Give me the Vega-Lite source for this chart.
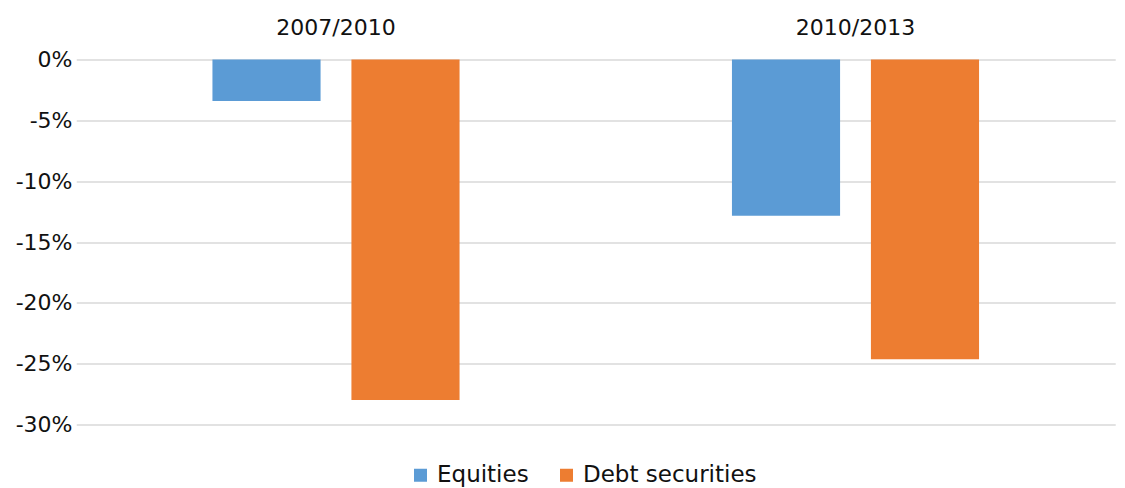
{
  "$schema": "https://vega.github.io/schema/vega-lite/v6.json",
  "autosize": {"type": "none"},
  "padding": {"left": 93, "top": 59.5, "right": 0, "bottom": 63.5},
  "width": 1045,
  "height": 365,
  "background": "white",
  "config": {
    "view": {"stroke": null},
    "font": "DejaVu Sans",
    "axis": {"labelFont": "DejaVu Sans", "labelColor": "#111111", "labelFontSize": 22},
    "legend": {"labelFont": "DejaVu Sans", "labelColor": "#111111", "labelFontSize": 23}
  },
  "data": {
    "values": [
      {"period": "2007/2010", "series": "Equities", "value": -0.0341},
      {"period": "2007/2010", "series": "Debt securities", "value": -0.2799},
      {"period": "2010/2013", "series": "Equities", "value": -0.1284},
      {"period": "2010/2013", "series": "Debt securities", "value": -0.2464}
    ]
  },
  "mark": {"type": "bar"},
  "encoding": {
    "x": {
      "field": "period",
      "type": "nominal",
      "sort": ["2007/2010", "2010/2013"],
      "scale": {"range": [-16.75, 1022.25], "paddingInner": 0, "paddingOuter": 0},
      "axis": {
        "orient": "top",
        "title": null,
        "domain": false,
        "ticks": false,
        "labelPadding": 20,
        "labelAngle": 0
      }
    },
    "xOffset": {
      "field": "series",
      "type": "nominal",
      "sort": ["Equities", "Debt securities"],
      "scale": {"paddingInner": 0.222, "paddingOuter": 0.98}
    },
    "y": {
      "field": "value",
      "type": "quantitative",
      "scale": {"domain": [-0.3, 0], "nice": false, "zero": true},
      "axis": {
        "title": null,
        "labelExpr": "replace(format(datum.value, '.0%'), '\u2212', '-')",
        "values": [0, -0.05, -0.1, -0.15, -0.2, -0.25, -0.3],
        "domain": false,
        "ticks": false,
        "labelPadding": 21,
        "grid": true,
        "gridColor": "#d9d9d9",
        "gridWidth": 1.5
      }
    },
    "color": {
      "field": "series",
      "type": "nominal",
      "sort": ["Equities", "Debt securities"],
      "scale": {"domain": ["Equities", "Debt securities"], "range": ["#5B9BD5", "#ED7D31"]},
      "legend": {
        "title": null,
        "orient": "none",
        "direction": "horizontal",
        "legendX": 316,
        "legendY": 404,
        "symbolType": "square",
        "symbolSize": 169,
        "symbolStrokeWidth": 0,
        "labelOffset": 5,
        "labelLimit": 400,
        "columnPadding": 26
      }
    }
  }
}
